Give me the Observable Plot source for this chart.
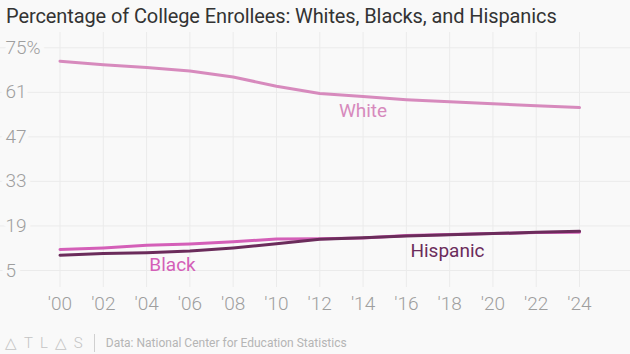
<!DOCTYPE html>
<html><head><meta charset="utf-8">
<script src="https://cdn.jsdelivr.net/npm/d3@7"></script>
<script src="https://cdn.jsdelivr.net/npm/@observablehq/plot@0.6"></script>
<style>
html,body{margin:0;padding:0;background:#f9f9f9;width:630px;height:354px;overflow:hidden;font-family:Roboto,"Noto Sans",sans-serif;}
#title{position:absolute;left:6px;top:4px;font-size:20px;color:#333;white-space:nowrap;letter-spacing:-0.1px;}
#chart{position:absolute;left:0;top:30px;}
#footer{position:absolute;left:5px;top:334px;font-size:12px;color:#b5b5b5;white-space:nowrap;display:flex;align-items:center;}
#logo{letter-spacing:7px;font-size:15px;color:#c4c4c4;font-weight:300;}
#sep{display:inline-block;width:1px;height:18px;background:#d0d0d0;margin:0 11px 0 4px;}
</style></head>
<body>
<div id="title">Percentage of College Enrollees: Whites, Blacks, and Hispanics</div>
<div id="chart"></div>
<div id="footer"><span id="logo">△TL△S</span><span id="sep"></span><span>Data: National Center for Education Statistics</span></div>
<script>
const years = [2000,2002,2004,2006,2008,2010,2012,2014,2016,2018,2020,2022,2024];
const white = [70.8,69.7,68.8,67.7,65.8,62.9,60.6,59.7,58.7,58.0,57.4,56.8,56.2];
const black = [11.6,12.1,12.9,13.3,14.0,14.9,15.0,15.2,16.0,16.3,16.6,16.9,17.0];
const hispanic = [9.8,10.3,10.6,11.1,12.1,13.4,14.8,15.3,15.8,16.2,16.6,17.0,17.3];
const yTicks = [5,19,33,47,61,75];
const xTicks = years;
const seriesNames = ["White","Black","Hispanic"];
const colors = ["#d78abd","#d45fb8","#6b2c5b"];
const labelPos = [
  {name:"White", year:2014, value:55.0},
  {name:"Black", year:2005.2, value:6.6},
  {name:"Hispanic", year:2017.9, value:11.3}
];

const rows = [];
[white, black, hispanic].forEach((arr, i) => arr.forEach((v, j) => rows.push({series: seriesNames[i], year: years[j], value: v})));

const plot = Plot.plot({
  width: 630,
  height: 290,
  marginLeft: 59.5,
  marginRight: 51,
  marginTop: 2,
  marginBottom: 33,
  style: {background: "transparent", fontFamily: "Roboto, sans-serif"},
  x: {domain: [2000, 2024], axis: null},
  y: {domain: [-0.35, 79.8], axis: null},
  color: {domain: seriesNames, range: colors},
  marks: [
    Plot.ruleX(xTicks, {x: d => d, stroke: "#ebebeb", strokeWidth: 1}),
    Plot.ruleY(yTicks, {y: d => d, x1: 1980, x2: 2030, stroke: "#ebebeb", strokeWidth: 1, clip: false}),
    Plot.text(yTicks, {y: d => d, frameAnchor: "left", dx: -54.5, text: d => d === 75 ? d + "%" : String(d), textAnchor: "start", fill: "#9e9e9e", fontSize: 19, fontWeight: 300, stroke: "#f9f9f9", strokeWidth: 10, paintOrder: "stroke"}),
    Plot.text(xTicks, {x: d => d, frameAnchor: "bottom", dy: 22, text: d => "'" + String(d).slice(2), fill: "#9e9e9e", fontSize: 19, fontWeight: 300}),
    Plot.line(rows.filter(d => d.series === "White"), {x: "year", y: "value", stroke: colors[0], strokeWidth: 3}),
    Plot.line(rows.filter(d => d.series === "Black"), {x: "year", y: "value", stroke: colors[1], strokeWidth: 3}),
    Plot.line(rows.filter(d => d.series === "Hispanic"), {x: "year", y: "value", stroke: colors[2], strokeWidth: 3}),
    Plot.text(labelPos, {x: "year", y: "value", text: "name", fill: d => colors[seriesNames.indexOf(d.name)], fontSize: 19})
  ]
});
document.getElementById("chart").appendChild(plot);
</script>
</body></html>
